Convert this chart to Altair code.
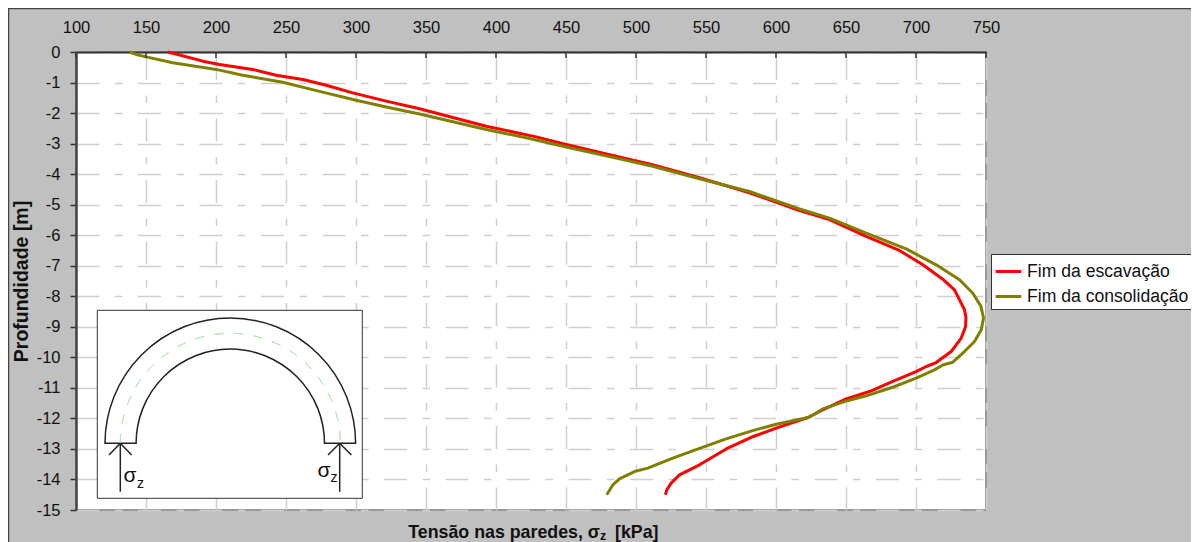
import math
import pandas as pd
import altair as alt

series_names = ["Fim da escavação", "Fim da consolidação"]
colors = ["#FF0000", "#808000"]
x_ticks = list(range(100, 751, 50))
y_ticks = list(range(-15, 1))

esc_x = [165.6,172.7,190.6,202.5,226.3,243,262,278.7,297.7,321.6,345.4,393,428.7,450.1,483.4,511.8,545.4,581,616.8,638.2,664.4,688.2,704.9,719.1,727.5,734.6,735.7,735.4,732.3,725.1,714.4,707.3,700.1,683.4,666.8,650.1,633.4,622.7,600.1,583.4,564.4,545.4,531,525.1,522,521]
esc_y = [0,-0.08,-0.30,-0.41,-0.57,-0.76,-0.90,-1.09,-1.34,-1.61,-1.86,-2.43,-2.78,-3.03,-3.39,-3.69,-4.12,-4.61,-5.19,-5.49,-6.04,-6.50,-6.97,-7.44,-7.79,-8.44,-8.70,-8.99,-9.37,-9.81,-10.17,-10.30,-10.47,-10.79,-11.12,-11.36,-11.72,-11.97,-12.32,-12.60,-13.00,-13.52,-13.85,-14.12,-14.34,-14.5]
con_x = [138.2,143,150.1,169.1,200.1,219.1,247.7,273.9,300.1,321.6,345.4,393,421.6,450.1,483.4,511.9,545.4,581,616.8,638.2,664.4,693,714.4,731.1,740.6,746.4,748.2,747.3,746.6,741.8,734.6,726.3,719.1,713.2,700.1,683.4,664.4,648.9,633.4,623.9,600.1,583.4,564.4,545.4,526.3,508.4,498.9,488.2,483.4,479.1]
con_y = [0,-0.08,-0.16,-0.35,-0.57,-0.76,-0.99,-1.29,-1.58,-1.80,-2.03,-2.54,-2.81,-3.11,-3.45,-3.74,-4.15,-4.57,-5.14,-5.44,-5.93,-6.45,-6.97,-7.46,-7.90,-8.33,-8.71,-8.93,-9.10,-9.48,-9.81,-10.16,-10.25,-10.41,-10.68,-10.98,-11.26,-11.45,-11.69,-11.96,-12.19,-12.40,-12.67,-12.98,-13.30,-13.63,-13.74,-13.98,-14.18,-14.5]

rows = []
for name, xs, ys in zip(series_names, [esc_x, con_x], [esc_y, con_y]):
    for i, (a, b) in enumerate(zip(xs, ys)):
        rows.append({"serie": name, "tensao": a, "prof": b, "ordem": i})
df = pd.DataFrame(rows)

FONT = "Liberation Sans"
DASH = [23, 15.5, 7.5, 15.5]
one = pd.DataFrame({"k": [0]})

lines = alt.Chart(df).mark_line(strokeWidth=3, strokeJoin="round", clip=False).encode(
    x=alt.X("tensao:Q", scale=alt.Scale(domain=[100, 750], nice=False),
            axis=alt.Axis(orient="top", values=x_ticks, title=None, format="d",
                          tickSize=0, labelPadding=17, labelFontSize=16.5, labelFont=FONT,
                          labelColor="#111", labelFlush=False, labelOverlap=False,
                          domainColor="#333", domainWidth=2,
                          gridColor="#cfcfcf", gridWidth=1.5, gridDash=DASH)),
    y=alt.Y("prof:Q", scale=alt.Scale(domain=[-15, 0], nice=False),
            axis=alt.Axis(values=y_ticks, title="Profundidade [m]", labelExpr="'' + datum.value",
                          tickSize=6, tickColor="#333", tickWidth=1.5,
                          labelPadding=10, labelFontSize=16.5, labelFont=FONT, labelColor="#111",
                          labelOverlap=False,
                          domainColor="#444", domainWidth=2.5,
                          gridColor="#cfcfcf", gridWidth=1.5, gridDash=DASH,
                          titleFont=FONT, titleFontSize=19.5, titleFontWeight="bold", titleColor="#111",
                          titleBaseline="alphabetic", titleX=-49, titleY=229)),
    color=alt.Color("serie:N", scale=alt.Scale(domain=series_names, range=colors),
                    legend=alt.Legend(orient="none", legendX=915, legendY=202, title=None,
                                      symbolType="stroke", symbolSize=660, symbolStrokeWidth=3,
                                      labelFont=FONT, labelFontSize=17.6, labelColor="#111",
                                      labelOffset=4, rowPadding=1, padding=3,
                                      fillColor="white", strokeColor="#333",
                                      labelLimit=300)),
    order="ordem:Q",
)

xtick_df = pd.DataFrame({"v": x_ticks})
xticks = alt.Chart(xtick_df).mark_rule(color="#333", strokeWidth=1.5).encode(
    x="v:Q", y=alt.value(0), y2=alt.value(6))

# Inset diagram
panel = alt.Chart(one).mark_rect(fill="white", stroke="#333", strokeWidth=1).encode(
    x=alt.value(21.3), x2=alt.value(286.3), y=alt.value(258.3), y2=alt.value(446.3))
arch = alt.Chart(one).mark_arc(fill="white", stroke="#222", strokeWidth=1.5).encode(
    x=alt.value(154.3), y=alt.value(391.3),
    theta=alt.value(-math.pi / 2), theta2=alt.value(math.pi / 2),
    radius=alt.value(125.3), radius2=alt.value(94.2))

dash_start = [-1.57 + 0.178 * i for i in range(18)]
dash_df = pd.DataFrame({"a": dash_start, "b": [d + 0.085 for d in dash_start]})
midline = alt.Chart(dash_df).mark_arc(fill=None, stroke="#b5e6b5", strokeWidth=1).encode(
    x=alt.value(154.3), y=alt.value(391.3),
    theta=alt.Theta("a:Q", scale=None), theta2="b:Q",
    radius=alt.value(110), radius2=alt.value(110))

seg_x = [44.3, 33, 55.6, 263.7, 252, 275.4]
seg_x2 = [44.3, 44.3, 44.3, 263.7, 263.7, 263.7]
seg_y = [439.7, 403, 403, 439.7, 403, 403]
seg_y2 = [391.3] * 6
arrows = alt.layer(*[
    alt.Chart(one).mark_rule(color="#222", strokeWidth=1.5).encode(
        x=alt.value(a), x2=alt.value(b), y=alt.value(c), y2=alt.value(d))
    for a, b, c, d in zip(seg_x, seg_x2, seg_y, seg_y2)
])

def label(text, x, y, size, weight="normal", align="left"):
    return alt.Chart(one).mark_text(text=text, font=FONT, fontSize=size, fontWeight=weight,
                                    align=align, baseline="alphabetic", color="#111").encode(
        x=alt.value(x), y=alt.value(y))

labels = [
    label("σ", 47.5, 429.5, 21), label("z", 61, 435.5, 14),
    label("σ", 241.5, 424.5, 21), label("z", 254.5, 430, 14),
    label("Tensão nas paredes, σ", 524, 486, 17.8, "bold", "right"),
    label("z", 524, 488, 12.5, "bold"),
    label("[kPa]", 539, 486, 17.8, "bold"),
]

# Outer frame of the chart area
frame_top = alt.Chart(one).mark_rule(color="#444", strokeWidth=1.5).encode(
    x=alt.value(-68), x2=alt.value(1115), y=alt.value(-43.5))
frame_left = alt.Chart(one).mark_rule(color="#444", strokeWidth=1.5).encode(
    x=alt.value(-67.5), y=alt.value(-44), y2=alt.value(490))

chart = alt.layer(lines, xticks, panel, arch, midline, arrows, *labels, frame_top, frame_left).properties(
    width=910, height=458, background="#C0C0C0",
    padding={"left": 68, "top": 44, "right": 205, "bottom": 32},
    autosize=alt.AutoSizeParams(type="none"),
).configure_view(fill="white", stroke="#999999", strokeWidth=2)

chart.save("out.html", embed_options={"renderer": "svg", "actions": False})
